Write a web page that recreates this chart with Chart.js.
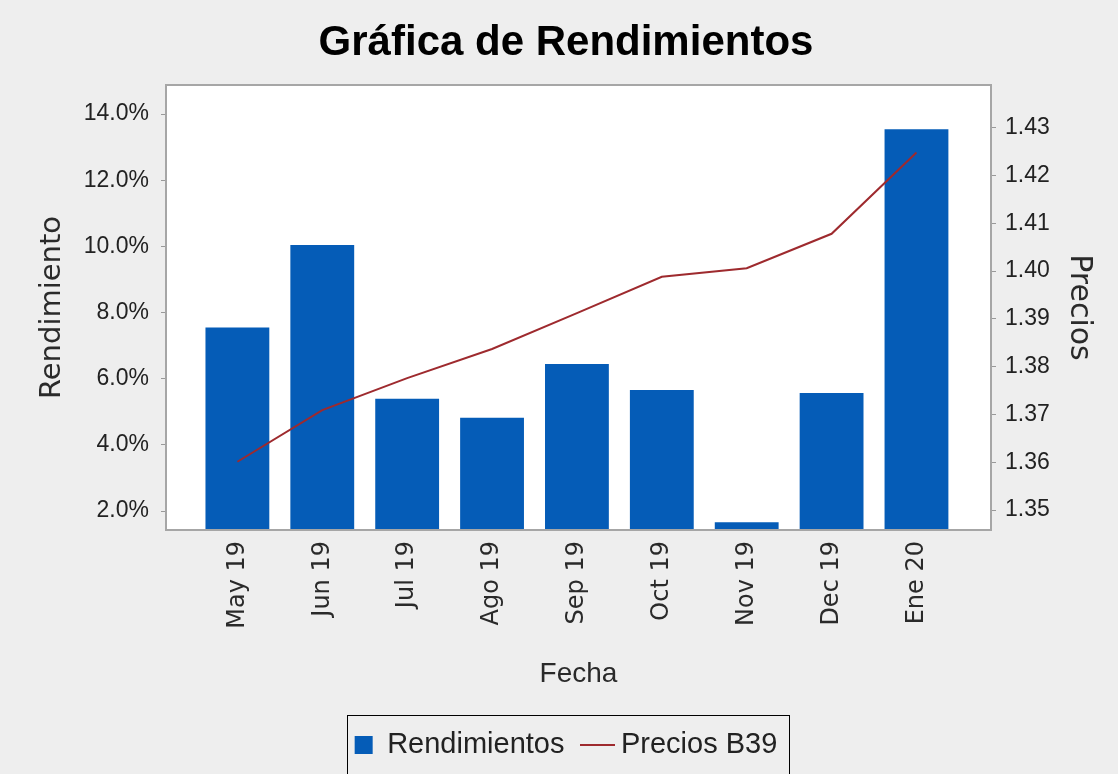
<!DOCTYPE html>
<html>
<head>
<meta charset="utf-8">
<script src="https://cdn.jsdelivr.net/npm/chart.js@4/dist/chart.umd.min.js"></script>
<style>
  html, body { margin: 0; padding: 0; background: #eeeeee; }
  #wrap { width: 1118px; height: 774px; }
</style>
</head>
<body>
<div id="wrap"><canvas id="c" width="1118" height="774"></canvas></div>
<script>
const categories = ['May 19', 'Jun 19', 'Jul 19', 'Ago 19', 'Sep 19', 'Oct 19', 'Nov 19', 'Dec 19', 'Ene 20'];
const rendimientos = [7.55, 10.04, 5.39, 4.82, 6.44, 5.66, 1.66, 5.57, 13.54];
const precios = [1.3601, 1.3709, 1.3776, 1.3837, 1.3912, 1.3988, 1.4006, 1.4078, 1.4248];
const leftTicks = [2, 4, 6, 8, 10, 12, 14];
const rightTicks = [1.35, 1.36, 1.37, 1.38, 1.39, 1.40, 1.41, 1.42, 1.43];

const barColor = '#055cb7';
const lineColor = '#9e2a2e';

// legend glyph for the line series (a short horizontal stroke)
const lineGlyph = document.createElement('canvas');
lineGlyph.width = 35; lineGlyph.height = 4;
(function () {
  const g = lineGlyph.getContext('2d');
  g.strokeStyle = lineColor; g.lineWidth = 2;
  g.beginPath(); g.moveTo(0, 2); g.lineTo(35, 2); g.stroke();
})();

const bgPlugin = {
  id: 'bg',
  beforeDraw(chart) {
    const ctx = chart.ctx, a = chart.chartArea;
    ctx.save();
    ctx.fillStyle = '#eeeeee';
    ctx.fillRect(0, 0, chart.width, chart.height);
    ctx.fillStyle = '#ffffff';
    ctx.fillRect(a.left, a.top, a.right - a.left, a.bottom - a.top);
    ctx.restore();
  },
  afterDatasetsDraw(chart) {
    const ctx = chart.ctx, a = chart.chartArea;
    ctx.save();
    ctx.strokeStyle = '#a6a6a6';
    ctx.lineWidth = 2;
    ctx.strokeRect(a.left, a.top, a.right - a.left, a.bottom - a.top);
    ctx.restore();
  },
  afterDraw(chart) {
    const lg = chart.legend;
    if (!lg || !lg.legendHitBoxes || !lg.legendHitBoxes.length) return;
    const hb = lg.legendHitBoxes;
    const first = hb[0], last = hb[hb.length - 1];
    const cy = first.top + first.height / 2;
    const ctx = chart.ctx;
    ctx.save();
    ctx.strokeStyle = '#000000';
    ctx.lineWidth = 1;
    const l = first.left - 8, r = last.left + last.width + 11;
    ctx.strokeRect(Math.round(l) + 0.5, Math.round(cy - 30) + 0.5, Math.round(r - l), 60);
    ctx.restore();
  }
};

const ctx = document.getElementById('c').getContext('2d');
new Chart(ctx, {
  data: {
    datasets: [
      {
        type: 'bar',
        label: 'Rendimientos',
        data: rendimientos.map((v, i) => ({ x: i, y: v })),
        backgroundColor: barColor,
        borderWidth: 0,
        categoryPercentage: 1,
        barPercentage: 0.752,
        yAxisID: 'y',
        order: 1
      },
      {
        type: 'line',
        label: 'Precios B39',
        data: precios.map((v, i) => ({ x: i, y: v })),
        borderColor: lineColor,
        backgroundColor: lineColor,
        borderWidth: 2,
        pointRadius: 0,
        tension: 0,
        fill: false,
        yAxisID: 'y1',
        order: 0
      }
    ]
  },
  options: {
    responsive: false,
    animation: false,
    layout: { padding: { left: 14, right: 0, top: 0, bottom: 4.5 } },
    plugins: {
      tooltip: { enabled: false },
      title: {
        display: true,
        text: 'Gráfica de Rendimientos',
        color: '#000000',
        font: { family: "'Liberation Sans', Arial, sans-serif", size: 42, weight: 'bold', lineHeight: 1.2 },
        padding: { top: 18, bottom: 16.6 }
      },
      legend: {
        position: 'bottom',
        labels: {
          usePointStyle: true,
          boxWidth: 18,
          boxHeight: 18,
          padding: 24,
          color: '#222222',
          font: { family: "'Liberation Sans', Arial, sans-serif", size: 29 },
          sort: (a, b) => a.datasetIndex - b.datasetIndex,
          generateLabels(chart) {
            const items = Chart.defaults.plugins.legend.labels.generateLabels(chart);
            items.forEach(it => {
              if (it.datasetIndex === 0) { it.pointStyle = 'rect'; it.lineWidth = 0; it.strokeStyle = barColor; }
              else { it.pointStyle = lineGlyph; it.lineWidth = 2; it.strokeStyle = lineColor; }
            });
            return items;
          }
        }
      }
    },
    scales: {
      x: {
        type: 'linear',
        offset: false,
        min: -0.841,
        max: 8.878,
        grid: { display: false, offset: false },
        border: { display: false },
        afterFit(scale) { scale.height = 176.5; },
        ticks: {
          stepSize: 1,
          includeBounds: false,
          autoSkip: false,
          minRotation: 90,
          maxRotation: 90,
          padding: 3,
          color: '#2a2a2a',
          font: { family: "'DejaVu Sans', sans-serif", size: 24 },
          callback: (v) => Number.isInteger(v) && v >= 0 && v < categories.length ? categories[v] : ''
        },
        title: {
          display: true,
          text: 'Fecha',
          color: '#2a2a2a',
          font: { family: "'Liberation Sans', Arial, sans-serif", size: 28, lineHeight: 1.2 },
          padding: { top: 0, bottom: 15 }
        }
      },
      y: {
        type: 'linear',
        position: 'left',
        min: 1.426,
        max: 14.877,
        afterFit(scale) { scale.width = 152; },
        afterBuildTicks(scale) { scale.ticks = leftTicks.map(v => ({ value: v })); },
        grid: { drawOnChartArea: false, drawTicks: true, tickLength: 5, color: '#999999' },
        border: { display: false },
        ticks: {
          padding: 12,
          color: '#222222',
          font: { family: "'Liberation Sans', Arial, sans-serif", size: 23 },
          callback: (v) => Number(v).toFixed(1) + '%'
        },
        title: {
          display: true,
          text: 'Rendimiento',
          color: '#2a2a2a',
          font: { family: "'DejaVu Sans', sans-serif", size: 29, lineHeight: 1.2 },
          padding: { top: 21, bottom: 0 }
        }
      },
      y1: {
        type: 'linear',
        position: 'right',
        min: 1.34582,
        max: 1.43893,
        afterFit(scale) { scale.width = 127; },
        afterBuildTicks(scale) { scale.ticks = rightTicks.map(v => ({ value: v })); },
        grid: { drawOnChartArea: false, drawTicks: true, tickLength: 5, color: '#999999' },
        border: { display: false },
        ticks: {
          padding: 9,
          color: '#222222',
          font: { family: "'Liberation Sans', Arial, sans-serif", size: 23 },
          callback: (v) => Number(v).toFixed(2)
        },
        title: {
          display: true,
          text: 'Precios',
          color: '#2a2a2a',
          font: { family: "'DejaVu Sans', sans-serif", size: 30, lineHeight: 1.2 },
          padding: { top: 21, bottom: 0 }
        }
      }
    }
  },
  plugins: [bgPlugin]
});
</script>
</body>
</html>
